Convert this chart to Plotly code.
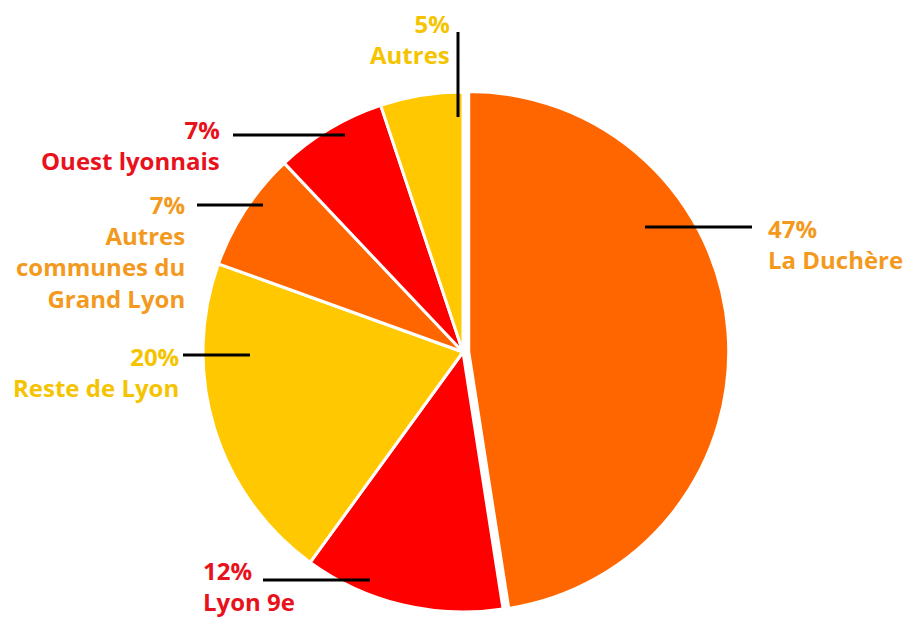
import plotly.graph_objects as go

# ---- data ----
labels = ["La Duchère", "Lyon 9e", "Reste de Lyon", "Autres communes du Grand Lyon",
          "Ouest lyonnais", "Autres"]
values = [47.3, 12.4, 20.4, 7.4, 6.9, 5.1]
pct_text = ["47%", "12%", "20%", "7%", "7%", "5%"]
name_lines = [["La Duchère"], ["Lyon 9e"], ["Reste de Lyon"],
              ["Autres", "communes du", "Grand Lyon"], ["Ouest lyonnais"], ["Autres"]]
slice_colors = ["#FF6600", "#FF0000", "#FFC800", "#FF6600", "#FF0000", "#FFC800"]
label_colors = ["#F39A1E", "#E8121C", "#F5C400", "#F39A1E", "#E8121C", "#F5C400"]
pulls = [0.022, 0, 0, 0, 0, 0]

W, H = 906, 620
CX, CY, R = 463, 352, 260  # pie centre / radius in pixels (layout)
maxpull = max(pulls)
half = R * (1 + maxpull)

# label layout (pixels): text anchor x, block edge y, anchors; leader line endpoints
label_layout = [
    dict(x=767, y=211, align="left", yanchor="top", line=((645, 227), (752, 227))),
    dict(x=202, y=619, align="left", yanchor="bottom", line=((263, 580), (370, 580))),
    dict(x=180, y=339, align="right", yanchor="top", line=((183, 355), (250, 355))),
    dict(x=186, y=187, align="right", yanchor="top", line=((197, 205), (263, 205))),
    dict(x=221, y=112, align="right", yanchor="top", line=((233, 135), (345, 135))),
    dict(x=451, y=6, align="right", yanchor="top", line=((458, 32), (458, 117))),
]
FONT = "Open Sans"
FSIZE = 24


def px(x):
    return x / W


def py(y):
    return 1 - y / H


fig = go.Figure(go.Pie(
    labels=labels, values=values, sort=False, direction="clockwise", rotation=0,
    pull=pulls, textinfo="none", hoverinfo="label+percent",
    marker=dict(colors=slice_colors, line=dict(color="white", width=3)),
    domain=dict(x=[px(CX - half), px(CX + half)], y=[py(CY + half), py(CY - half)]),
    showlegend=False,
))

annotations = []
shapes = []
for i in range(len(labels)):
    lay = label_layout[i]
    text = "<br>".join([pct_text[i]] + name_lines[i])
    annotations.append(dict(
        x=px(lay["x"]), y=py(lay["y"]), xref="paper", yref="paper",
        text=text, showarrow=False, xanchor=lay["align"], align=lay["align"],
        yanchor=lay["yanchor"], borderpad=0,
        font=dict(family=FONT, size=FSIZE, color=label_colors[i], weight="bold"),
    ))
    (x0, y0), (x1, y1) = lay["line"]
    shapes.append(dict(type="line", xref="paper", yref="paper",
                       x0=px(x0), y0=py(y0), x1=px(x1), y1=py(y1),
                       line=dict(color="black", width=3)))

fig.update_layout(
    width=W, height=H, margin=dict(l=0, r=0, t=0, b=0),
    paper_bgcolor="white", plot_bgcolor="white",
    annotations=annotations, shapes=shapes,
)
fig.write_html("out.html", config={"displayModeBar": False},
               post_script="document.body.style.margin='0';")
